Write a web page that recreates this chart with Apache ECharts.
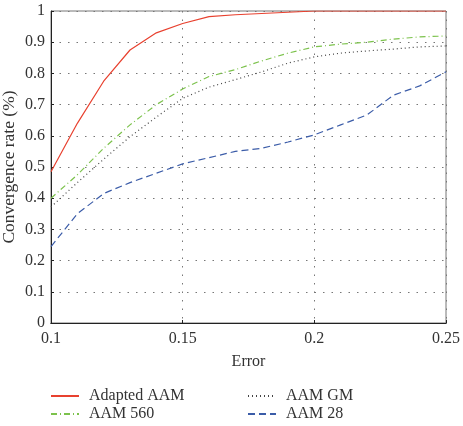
<!DOCTYPE html>
<html><head><meta charset="utf-8">
<script src="https://cdn.jsdelivr.net/npm/echarts@6/dist/echarts.min.js"></script>
<style>html,body{margin:0;padding:0;background:#fff}#c{width:463px;height:426px}</style>
</head><body><div id="c"></div>
<script>
const errors = [0.10,0.11,0.12,0.13,0.14,0.15,0.16,0.17,0.18,0.19,0.20,0.21,0.22,0.23,0.24,0.25];
const adaptedAAM = [0.485,0.64,0.775,0.875,0.93,0.96,0.982,0.988,0.992,0.996,1.0,1.0,1.0,1.0,1.0,1.0];
const aam560 = [0.40,0.475,0.56,0.635,0.70,0.75,0.79,0.812,0.84,0.865,0.885,0.894,0.90,0.91,0.917,0.92];
const aamGM = [0.372,0.45,0.525,0.597,0.66,0.72,0.756,0.78,0.805,0.833,0.853,0.865,0.872,0.878,0.885,0.888];
const aam28 = [0.245,0.35,0.415,0.45,0.48,0.51,0.53,0.55,0.56,0.58,0.603,0.635,0.667,0.73,0.76,0.805];
const seriesNames = ['Adapted AAM','AAM 560','AAM GM','AAM 28'];

const font = 'Liberation Serif';
const fs = 16;
const pair = a => errors.map((x,i)=>[x,a[i]]);
const chart = echarts.init(document.getElementById('c'));
const mk = (name, data, color, type, width) => ({
  name, type:'line', data: pair(data), symbol:'none', showSymbol:false, smooth:false,
  lineStyle:{color, type, width}, itemStyle:{color}
});
const legendPos = [[50,388],[50,406],[247,388],[247,406]];
const legends = seriesNames.map((n,i)=>({
  left:legendPos[i][0], top:legendPos[i][1], itemWidth:28, itemHeight:10, padding:0,
  data:[n], itemStyle:{opacity:0},
  textStyle:{fontFamily:font, fontSize:fs, color:'#333', padding:[0,0,0,5]}
}));
chart.setOption({
  animation:false,
  textStyle:{fontFamily:font},
  grid:{left:51, right:17, top:11, bottom:103, outerBoundsMode:'none', containLabel:false, show:true, borderColor:'#777', borderWidth:1},
  xAxis:[{type:'value', min:0.1, max:0.25, interval:0.05, name:'Error', nameLocation:'middle', nameGap:31,
    nameTextStyle:{fontFamily:font, fontSize:fs, color:'#333'},
    axisLine:{show:true, onZero:false, lineStyle:{color:'#222'}},
    axisTick:{show:true, inside:true, length:3, lineStyle:{color:'#222'}},
    axisLabel:{fontFamily:font, fontSize:fs, color:'#333', margin:8, formatter:v=>String(+v.toFixed(2))},
    splitLine:{show:true, lineStyle:{color:'#777', type:[1.5,7], width:1}}},
    {type:'value', position:'top', min:0.1, max:0.25, axisLine:{show:true, lineStyle:{color:'#222'}},
     axisTick:{show:false}, axisLabel:{show:false}, splitLine:{show:false}}],
  yAxis:{type:'value', min:0, max:1, interval:0.1, name:'Convergence rate (%)', nameLocation:'middle', nameGap:33,
    nameMoveOverlap:false,
    nameTextStyle:{fontFamily:font, fontSize:17.5, color:'#333'},
    axisLine:{show:true, lineStyle:{color:'#222'}},
    axisTick:{show:true, inside:true, length:3, lineStyle:{color:'#222'}},
    axisLabel:{fontFamily:font, fontSize:fs, color:'#333', margin:6, formatter:v=>String(+v.toFixed(1))},
    splitLine:{show:true, lineStyle:{color:'#777', type:[1.5,7], width:1}}},
  legend:legends,
  series:[
    mk(seriesNames[0], adaptedAAM, '#e8412f', 'solid', 1.2),
    mk(seriesNames[1], aam560, '#7cc24c', [6,3,1,3], 1.2),
    mk(seriesNames[2], aamGM, '#444', [1,3], 1.2),
    mk(seriesNames[3], aam28, '#3b5ca8', [7,4], 1.2)
  ]
});
</script></body></html>
